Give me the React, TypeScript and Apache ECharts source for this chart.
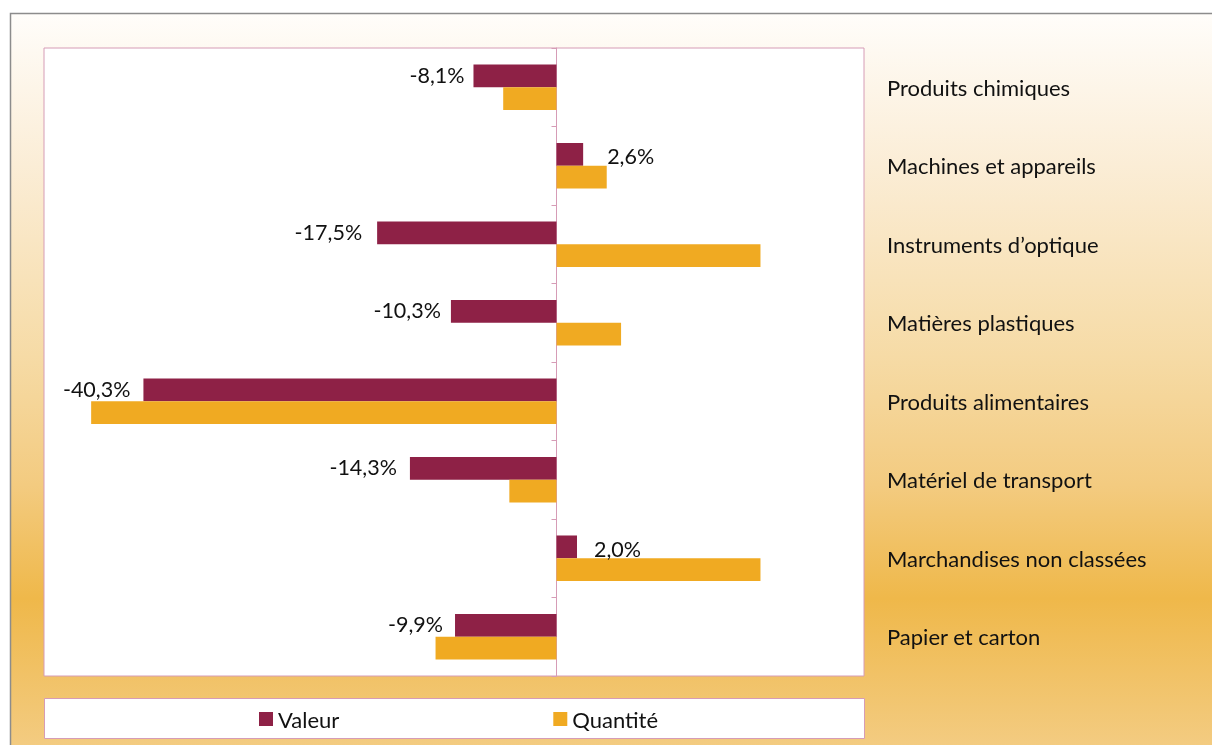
import React, { useEffect, useRef } from "react";
import * as echarts from "echarts";

const categories = [
  "Produits chimiques",
  "Machines et appareils",
  "Instruments d\u2019optique",
  "Matières plastiques",
  "Produits alimentaires",
  "Matériel de transport",
  "Marchandises non classées",
  "Papier et carton",
];
const valeur = [-8.1, 2.6, -17.5, -10.3, -40.3, -14.3, 2.0, -9.9];
const quantite = [-5.2, 4.9, 19.9, 6.3, -45.4, -4.6, 19.9, -11.8];
const labelDistances = [9, 24, 15, 10, 13, 13, 17, 12];

const FONT = "Lato";

export default function App() {
  const ref = useRef<HTMLDivElement>(null);
  useEffect(() => {
    if (!ref.current) return;
    const chart = echarts.init(ref.current, undefined, { renderer: "svg" });
    const fmt = (v: number) => v.toFixed(1).replace(".", ",") + "%";
    chart.setOption({
      animation: false,
      graphic: [
        {
          type: "rect",
          shape: { x: 10.5, y: 13.5, width: 1220, height: 760 },
          style: {
            stroke: "#8c8c8c",
            lineWidth: 1.5,
            fill: {
              type: "linear",
              x: 0,
              y: 0,
              x2: 0,
              y2: 1,
              colorStops: [
                { offset: 0, color: "#FFFDFA" },
                { offset: 0.2, color: "#FBEDD6" },
                { offset: 0.45, color: "#F6DBA6" },
                { offset: 0.62, color: "#F3CB80" },
                { offset: 0.77, color: "#EFB84A" },
                { offset: 0.96, color: "#F3CB80" },
                { offset: 1, color: "#F4CF86" },
              ],
            },
          },
          z: -10,
        },
        {
          type: "rect",
          shape: { x: 44.5, y: 698.5, width: 820, height: 40 },
          style: { fill: "#ffffff", stroke: "#D69CB6", lineWidth: 1 },
          z: -5,
        },
      ],
      legend: {
        data: ["Valeur", "Quantité"],
        left: 254,
        top: 703,
        itemGap: 214,
        itemWidth: 14,
        itemHeight: 14,
        icon: "rect",
        textStyle: { fontFamily: FONT, fontSize: 22, color: "#111" },
      },
      grid: {
        left: 44,
        right: 348,
        top: 48,
        bottom: 69,
        show: true,
        backgroundColor: "#ffffff",
        borderColor: "#D69CB6",
        borderWidth: 1,
      },
      xAxis: {
        type: "value",
        min: -50,
        max: 30,
        show: false,
        splitLine: { show: false },
      },
      yAxis: [
        {
          type: "category",
          data: categories,
          inverse: true,
          position: "left",
          axisLine: { onZero: true, lineStyle: { color: "#D69CB6", width: 1 } },
          axisTick: { show: true, length: 5, lineStyle: { color: "#D69CB6" } },
          axisLabel: { show: false },
        },
        {
          type: "category",
          data: categories,
          inverse: true,
          position: "right",
          axisLine: { show: false },
          axisTick: { show: false },
          axisLabel: {
            show: true,
            margin: 23,
            fontFamily: FONT,
            fontSize: 22,
            color: "#111",
            align: "left",
          },
        },
      ],
      series: [
        {
          name: "Valeur",
          type: "bar",
          yAxisIndex: 0,
          barGap: "0%",
          barCategoryGap: "42%",
          itemStyle: { color: "#8E2146" },
          data: valeur.map((v, i) => ({
            value: v,
            label: {
              show: true,
              position: v < 0 ? "left" : "right",
              distance: labelDistances[i],
              offset: v < 0 ? [0, -1] : [0, 2],
              formatter: () => fmt(v),
              fontFamily: FONT,
              fontSize: 21.5,
              color: "#111",
            },
          })),
        },
        {
          name: "Quantité",
          type: "bar",
          yAxisIndex: 0,
          barGap: "0%",
          barCategoryGap: "42%",
          itemStyle: { color: "#F0AA22" },
          data: quantite,
        },
      ],
    });
    return () => chart.dispose();
  }, []);
  return (
    <div
      ref={ref}
      style={{ position: "fixed", left: 0, top: 0, width: 1212, height: 745 }}
    />
  );
}
